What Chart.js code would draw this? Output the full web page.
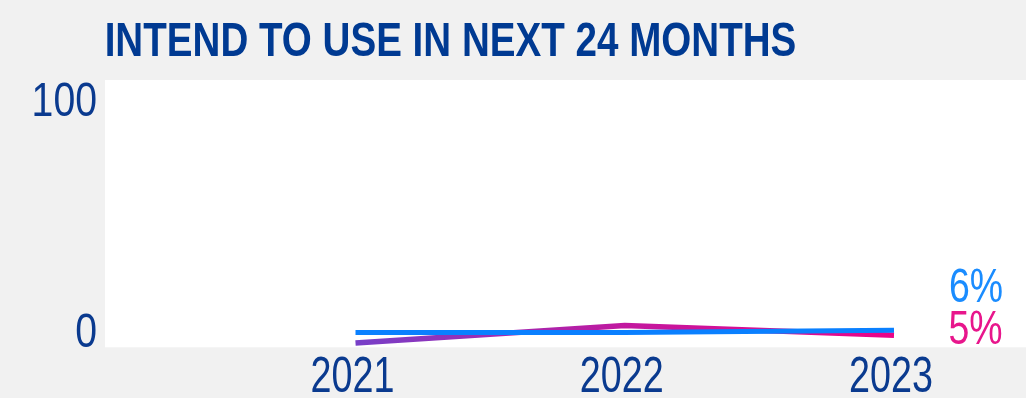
<!DOCTYPE html>
<html>
<head>
<meta charset="utf-8">
<script src="https://cdn.jsdelivr.net/npm/chart.js@4/dist/chart.umd.min.js"></script>
<style>
  html, body { margin: 0; padding: 0; background: #f1f1f1; }
  #wrap { width: 1026px; height: 398px; }
</style>
</head>
<body>
<div id="wrap"><canvas id="c" width="1026" height="398"></canvas></div>
<script>
const titleText = 'INTEND TO USE IN NEXT 24 MONTHS';
const years = [2021, 2022, 2023];
const yTicks = [0, 100];
const blueValues = [5.5, 5.5, 6.4];
const pinkValues = [1.6, 8.2, 4.5];
const endLabels = ['6%', '5%'];

const NAVY = '#0a3a8f';
const BLUE = '#0a80ff';
const FONT = "'Liberation Sans', Arial, sans-serif";

function drawSqueezed(ctx, text, x, y, sx, align, font, color) {
  ctx.save();
  ctx.font = font;
  ctx.fillStyle = color;
  ctx.textAlign = align;
  ctx.textBaseline = 'alphabetic';
  ctx.translate(x, y);
  ctx.scale(sx, 1);
  ctx.fillText(text, 0, 0);
  ctx.restore();
}

// draw text so its ink spans [inkLeft, inkRight]
function drawFitted(ctx, text, inkLeft, inkRight, baseline, font, color) {
  ctx.save();
  ctx.font = font;
  ctx.textAlign = 'left';
  const m = ctx.measureText(text);
  const w = m.actualBoundingBoxLeft + m.actualBoundingBoxRight;
  const sx = (inkRight - inkLeft) / w;
  ctx.restore();
  drawSqueezed(ctx, text, inkLeft + m.actualBoundingBoxLeft * sx, baseline, sx, 'left', font, color);
}

const bgPlugin = {
  id: 'bg',
  beforeDraw(chart) {
    const { ctx, chartArea: a } = chart;
    ctx.save();
    ctx.fillStyle = '#f1f1f1';
    ctx.fillRect(0, 0, chart.width, chart.height);
    ctx.fillStyle = '#ffffff';
    ctx.fillRect(a.left, a.top, a.right - a.left, a.bottom - a.top);
    ctx.restore();
  }
};

const textPlugin = {
  id: 'texts',
  afterDraw(chart) {
    const { ctx, chartArea: a, scales } = chart;
    // title
    drawFitted(ctx, titleText, 107, 795, 56, 'bold 49px ' + FONT, '#003a92');
    // y tick labels
    const ys = scales.y;
    ys.ticks.forEach(t => {
      const p = ys.getPixelForValue(t.value);
      const base = t.value === ys.max ? p + 36 : p - 0.3;
      drawSqueezed(ctx, String(t.value), 97, base, 0.8, 'right', '49px ' + FONT, NAVY);
    });
    // x tick labels
    const xs = scales.x;
    xs.ticks.forEach(t => {
      const p = xs.getPixelForValue(t.value);
      drawSqueezed(ctx, String(t.value), p - 3, a.bottom + 44.7, 0.755, 'center', '50px ' + FONT, NAVY);
    });
    // end labels
    const yb = ys.getPixelForValue(blueValues[blueValues.length - 1]);
    const yp = ys.getPixelForValue(pinkValues[pinkValues.length - 1]);
    drawSqueezed(ctx, endLabels[1], 948.5, yp + 9, 0.78, 'left', '48px ' + FONT, '#e8168c');
    drawSqueezed(ctx, endLabels[0], 949, yb - 28, 0.78, 'left', '48px ' + FONT, '#1a8cff');
  }
};

function pinkGradient(context) {
  const chart = context.chart;
  const { ctx, chartArea } = chart;
  if (!chartArea || !chart.scales.x) return '#e6007e';
  const x0 = chart.scales.x.getPixelForValue(years[0]);
  const x1 = chart.scales.x.getPixelForValue(years[years.length - 1]);
  const g = ctx.createLinearGradient(x0, 0, x1, 0);
  g.addColorStop(0, '#7740c8');
  g.addColorStop(0.5, '#c2189f');
  g.addColorStop(1, '#ea0488');
  return g;
}

new Chart(document.getElementById('c'), {
  type: 'line',
  data: {
    datasets: [
      {
        label: 'Blue',
        data: years.map((y, i) => ({ x: y, y: blueValues[i] })),
        borderColor: BLUE,
        borderWidth: 5,
        pointRadius: 0,
        tension: 0,
        borderCapStyle: 'butt',
        borderJoinStyle: 'miter'
      },
      {
        label: 'Pink',
        data: years.map((y, i) => ({ x: y, y: pinkValues[i] })),
        borderColor: pinkGradient,
        borderWidth: 5.5,
        pointRadius: 0,
        tension: 0,
        borderCapStyle: 'butt',
        borderJoinStyle: 'miter'
      }
    ]
  },
  options: {
    responsive: false,
    animation: false,
    devicePixelRatio: 1,
    layout: { padding: { left: 105, top: 80, right: 0, bottom: 50.7 } },
    plugins: { legend: { display: false }, title: { display: false }, tooltip: { enabled: false } },
    scales: {
      x: {
        type: 'linear',
        display: false,
        min: 2020.0696,
        max: 2023.4903,
        afterBuildTicks: s => { s.ticks = years.map(v => ({ value: v })); }
      },
      y: {
        type: 'linear',
        display: false,
        min: 0,
        max: 100,
        afterBuildTicks: s => { s.ticks = yTicks.map(v => ({ value: v })); }
      }
    }
  },
  plugins: [bgPlugin, textPlugin]
});
</script>
</body>
</html>
